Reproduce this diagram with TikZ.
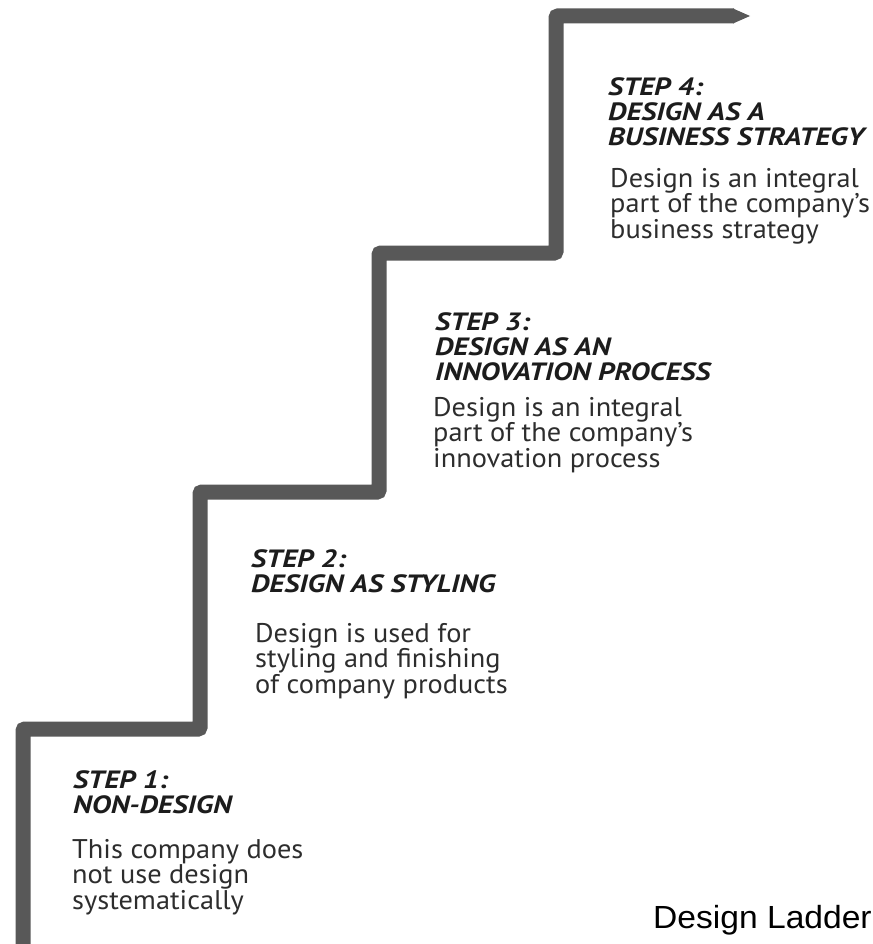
\documentclass[tikz,border=0pt]{standalone}
\usepackage{fontspec}
\setmainfont{PT Sans}[FakeStretch=1.05]
\newfontfamily\headfont{PT Sans}[FakeStretch=1.18]
\newfontfamily\labelfont{Liberation Sans}[FakeStretch=1.05]
\definecolor{stairgray}{RGB}{88,88,88}
\definecolor{inkdark}{RGB}{28,28,28}
\definecolor{inkbody}{RGB}{45,45,45}
\begin{document}
\begin{tikzpicture}[x=1pt,y=-1pt,
  stair/.style={line width=15pt, draw=stairgray, line join=miter, rounded corners=2pt},
  headtext/.style={anchor=base west, inner sep=0pt, align=left,
    font=\headfont\fontsize{25}{25}\selectfont\bfseries\itshape, text=inkdark},
  bodytext/.style={anchor=base west, inner sep=0pt, align=left,
    font=\fontsize{27}{25.5}\selectfont, text=inkbody},
  titletext/.style={anchor=base west, inner sep=0pt,
    font=\labelfont\fontsize{32}{34}\selectfont, text=black}]
\useasboundingbox (0,0) rectangle (872,944);
% staircase
\coordinate (s0) at (23,960);
\coordinate (s1) at (23,729);
\coordinate (s2) at (200,729);
\coordinate (s3) at (200,492);
\coordinate (s4) at (379,492);
\coordinate (s5) at (379,253);
\coordinate (s6) at (556,253);
\coordinate (s7) at (556,16);
\coordinate (s8) at (734,16);
\coordinate (tipA) at (733,8.5);
\coordinate (tipB) at (750,16);
\coordinate (tipC) at (733,23.5);
\draw[stair] (s0) -- (s1) -- (s2) -- (s3) -- (s4) -- (s5) -- (s6) -- (s7) -- (s8);
\fill[stairgray] (tipA) -- (tipB) -- (tipC) -- cycle;
% step 1 (anchors at the baseline of the last line)
\node[headtext] (h1) at (73,813) {STEP 1:\\NON-DESIGN};
\node[bodytext] (b1) at (72,909) {This company does\\not use design\\systematically};
% step 2
\node[headtext] (h2) at (251,592) {STEP 2:\\DESIGN AS STYLING};
\node[bodytext] (b2) at (255,693) {Design is used for\\styling and finishing\\of company products};
% step 3
\node[headtext] (h3) at (435,380) {STEP 3:\\DESIGN AS AN\\INNOVATION PROCESS};
\node[bodytext] (b3) at (433,467) {Design is an integral\\part of the company's\\innovation process};
% step 4
\node[headtext] (h4) at (608,146) {STEP 4:\\DESIGN AS A\\BUSINESS STRATEGY};
\node[bodytext] (b4) at (610,238) {Design is an integral\\part of the company's\\business strategy};
% title
\node[titletext] (title) at (653,928) {Design Ladder};
\end{tikzpicture}
\end{document}
